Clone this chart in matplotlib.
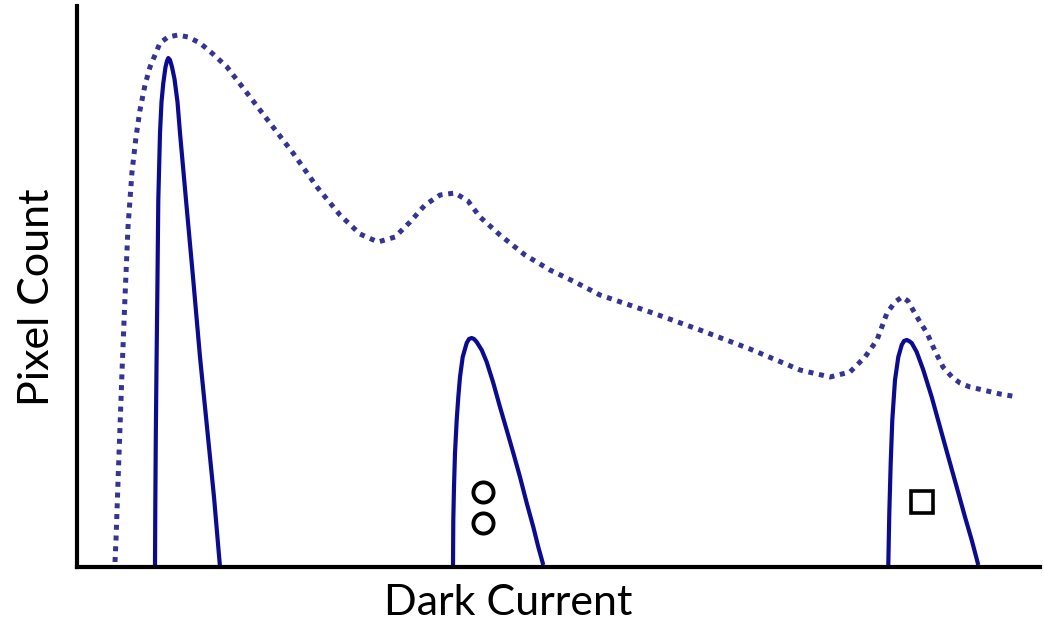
import matplotlib.pyplot as plt

# values (x = dark current, y = pixel count, arbitrary units)
envelope_x = [115, 116, 118, 120, 122, 125, 128, 132, 136, 140, 145, 150, 155, 160, 168, 178, 188, 200, 213,
              227, 247, 273, 293, 317, 340, 360, 378, 395, 410, 425, 440, 455, 468, 480, 500, 525, 550, 575,
              600, 650, 700, 750, 800, 830, 850, 865, 877, 887, 895, 902, 908, 913, 920, 927, 935, 943, 952,
              960, 970, 983, 1000, 1018]
envelope_y = [5, 27, 85, 140, 195, 270, 340, 395, 430, 457, 482, 500, 512, 524, 530, 532, 530, 524, 513,
              500, 474, 440, 414, 380, 352, 333, 325, 330, 345, 362, 372, 374, 366, 350, 332, 312, 297, 285,
              272, 255, 237, 218, 197, 190, 195, 210, 227, 254, 265, 270, 266, 257, 245, 234, 216, 200, 190,
              184, 180, 177, 173, 170]

peak1_x = [155, 155.3, 155.8, 156.5, 157.3, 158.3, 160, 161.5, 163.3, 165.5, 167, 168.3, 170, 172, 174.5,
           177.5, 180, 186, 193, 200, 207, 214, 220]
peak1_y = [0, 60, 130, 200, 270, 367, 434, 465, 484, 500, 506, 509, 507, 500, 488, 465, 434, 367, 290,
           210, 140, 70, 0]

peak2_x = [453, 453.3, 454, 455, 456.7, 458.3, 460, 462.7, 466.7, 469, 471.7, 474, 476.7, 481.7, 486.7,
           493.3, 500, 506.7, 513.3, 520, 526.7, 533.3, 538.3, 543.3]
peak2_y = [0, 47, 80, 114, 147, 170, 190, 210, 224, 228, 229, 228, 225, 217, 205, 184, 160, 137, 114, 90,
           64, 40, 20, 2]

peak3_x = [888.3, 889.3, 890.7, 892.3, 895, 898.3, 901.7, 904, 906.7, 909, 911.7, 916.7, 923.3, 931.7, 940,
           948.3, 956.7, 965, 971.7, 978.3]
peak3_y = [2, 54, 104, 147, 187, 210, 222, 226, 227, 226, 224, 215, 197, 170, 140, 110, 80, 50, 27, 2]

circle_x = [483, 483]
circle_y = [75, 44]
square_x = [922]
square_y = [65]

solid_color = "#0a0a9a"
dotted_color = "#333399"

fig = plt.figure(figsize=(10.44, 6.21), dpi=100)
ax = fig.add_axes([77 / 1044, 54 / 621, 963 / 1044, 561 / 621])

ax.plot(envelope_x, envelope_y, color=dotted_color, linewidth=3.6, linestyle=(0, (1, 1.15)),
        dash_capstyle="butt", solid_joinstyle="round")
for px, py in [(peak1_x, peak1_y), (peak2_x, peak2_y), (peak3_x, peak3_y)]:
    ax.plot(px, py, color=solid_color, linewidth=3.0, solid_capstyle="butt", solid_joinstyle="round")

ax.plot(circle_x, circle_y, linestyle="none", marker="o", markersize=14.5, markerfacecolor="white",
        markeredgecolor="black", markeredgewidth=2.8)
ax.plot(square_x, square_y, linestyle="none", marker="s", markersize=15.5, markerfacecolor="white",
        markeredgecolor="black", markeredgewidth=2.6)

ax.set_xlim(77, 1040)
ax.set_ylim(0, 561)
ax.set_xticks([])
ax.set_yticks([])
for side in ["top", "right"]:
    ax.spines[side].set_visible(False)
for side in ["left", "bottom"]:
    ax.spines[side].set_linewidth(3.0)
    ax.spines[side].set_color("black")

fig.text(508 / 1044, 1 - 603 / 621, "Dark Current", fontsize=31, family="Lato",
         ha="center", va="center")
fig.text(37 / 1044, 1 - 297 / 621, "Pixel Count", fontsize=31, family="Lato",
         rotation=90, ha="center", va="center")

fig.savefig("out.png", dpi=100)
